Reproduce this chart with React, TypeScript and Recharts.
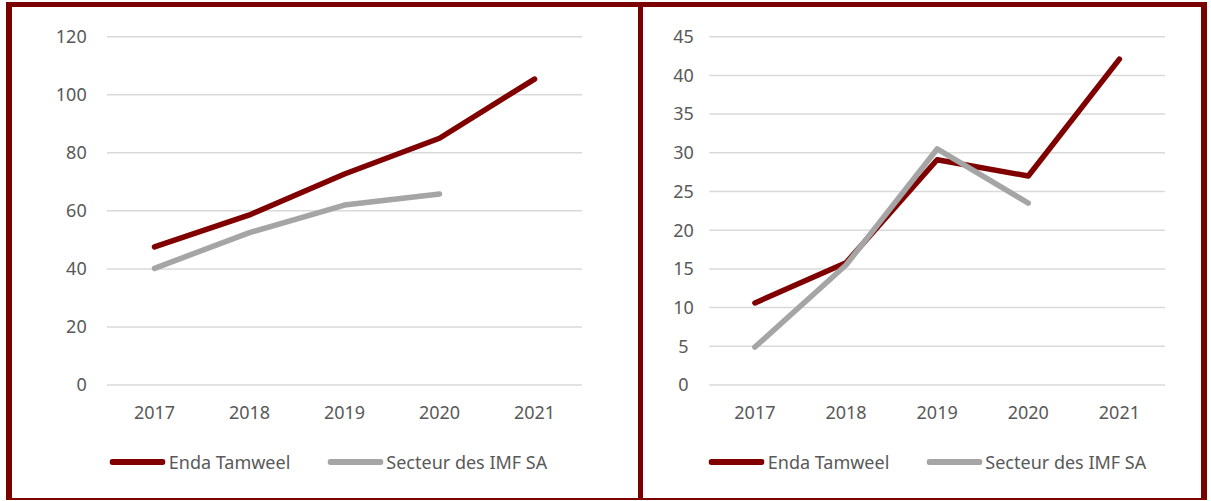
import { LineChart, Line, XAxis, YAxis, CartesianGrid, Legend } from 'recharts'

const years = ['2017', '2018', '2019', '2020', '2021']

// graphique de gauche
const endaLeft = [47.6, 58.6, 72.7, 85.0, 105.4]
const secteurLeft = [40.2, 52.5, 62.0, 65.8, null]
const leftTicks = [0, 20, 40, 60, 80, 100, 120]

// graphique de droite
const endaRight = [10.6, 15.8, 29.1, 27.0, 42.1]
const secteurRight = [4.9, 15.5, 30.5, 23.5, null]
const rightTicks = [0, 5, 10, 15, 20, 25, 30, 35, 40, 45]

const seriesNames = ['Enda Tamweel', 'Secteur des IMF SA']

const FONT = '"Noto Sans", sans-serif'
const TEXT = '#595959'
const RED = '#800000'
const GREY = '#A5A5A5'
const BORDER = '#7B0000'

const buildRows = (a: (number | null)[], b: (number | null)[]) =>
    years.map((year, i) => ({ year, enda: a[i], secteur: b[i] }))

const LegendContent = ({ payload, shift }: any) => (
    <div style={{
        display: 'flex', justifyContent: 'center', alignItems: 'center', height: 40,
        fontFamily: FONT, fontSize: 18, color: TEXT, transform: `translateX(${shift}px)`,
    }}>
        {(payload || []).map((p: any, i: number) => (
            <div key={i} style={{ display: 'flex', alignItems: 'center', marginLeft: i ? 37 : 0 }}>
                <svg width={56} height={8}>
                    <line x1={3} y1={4} x2={53} y2={4} stroke={p.color} strokeWidth={6} strokeLinecap="round" />
                </svg>
                <span style={{ marginLeft: 3, whiteSpace: 'nowrap' }}>{p.value}</span>
            </div>
        ))}
    </div>
)

const CenteredTick = ({ x, y, payload }: any) => (
    <text x={x} y={y} dy="0.355em" textAnchor="middle" fill={TEXT} fontSize={18} fontFamily={FONT}>
        {payload.value}
    </text>
)

interface PanelProps {
    rows: any[]
    ticks: number[]
    width: number
    yWidth: number
    yMargin: number
    rightMargin: number
    xPad: number
    centered?: boolean
    shift: number
}

function Panel({ rows, ticks, width, yWidth, yMargin, rightMargin, xPad, centered, shift }: PanelProps) {
    const tickStyle = { fill: TEXT, fontSize: 18, fontFamily: FONT }
    return (
        <LineChart
            width={width}
            height={491}
            data={rows}
            margin={{ top: 29.7, right: rightMargin, bottom: 16, left: 0 }}
        >
            <CartesianGrid vertical={false} stroke="#D9D9D9" strokeWidth={1.5} />
            <XAxis
                dataKey="year"
                axisLine={false}
                tickLine={false}
                tickSize={0}
                tickMargin={21}
                height={57}
                padding={{ left: xPad, right: xPad }}
                tick={tickStyle}
            />
            <YAxis
                domain={[ticks[0], ticks[ticks.length - 1]]}
                ticks={ticks}
                axisLine={false}
                tickLine={false}
                tickSize={0}
                tickMargin={yMargin}
                width={yWidth}
                tick={centered ? <CenteredTick /> : tickStyle}
            />
            <Legend
                verticalAlign="bottom"
                height={40}
                wrapperStyle={{ left: 0, width }}
                content={<LegendContent shift={shift} />}
            />
            <Line
                type="linear"
                dataKey="enda"
                name={seriesNames[0]}
                stroke={RED}
                strokeWidth={5.5}
                strokeLinecap="round"
                strokeLinejoin="round"
                dot={false}
                activeDot={false}
                isAnimationActive={false}
            />
            <Line
                type="linear"
                dataKey="secteur"
                name={seriesNames[1]}
                stroke={GREY}
                strokeWidth={5.5}
                strokeLinecap="round"
                strokeLinejoin="round"
                dot={false}
                activeDot={false}
                isAnimationActive={false}
            />
        </LineChart>
    )
}

export default function App() {
    const bar = (left: number, top: number, w: number, h: number) => (
        <div style={{ position: 'absolute', left, top, width: w, height: h, background: BORDER }} />
    )
    return (
        <div style={{ position: 'absolute', left: 0, top: 0, width: 1211, height: 501, background: '#fff', overflow: 'hidden' }}>
            <div style={{ position: 'absolute', left: 12, top: 7 }}>
                <Panel
                    rows={buildRows(endaLeft, secteurLeft)}
                    ticks={leftTicks}
                    width={626}
                    yWidth={95}
                    yMargin={20.3}
                    rightMargin={56}
                    xPad={47.5}
                    shift={3.5}
                />
            </div>
            <div style={{ position: 'absolute', left: 643, top: 7 }}>
                <Panel
                    rows={buildRows(endaRight, secteurRight)}
                    ticks={rightTicks}
                    width={558}
                    yWidth={66.3}
                    yMargin={25.8}
                    rightMargin={36}
                    xPad={45.6}
                    centered
                    shift={5.5}
                />
            </div>
            {bar(6, 2, 1201, 5)}
            {bar(6, 2, 6, 498)}
            {bar(638, 2, 5, 498)}
            {bar(1201, 2, 6, 498)}
            {bar(6, 498, 1201, 2)}
        </div>
    )
}
